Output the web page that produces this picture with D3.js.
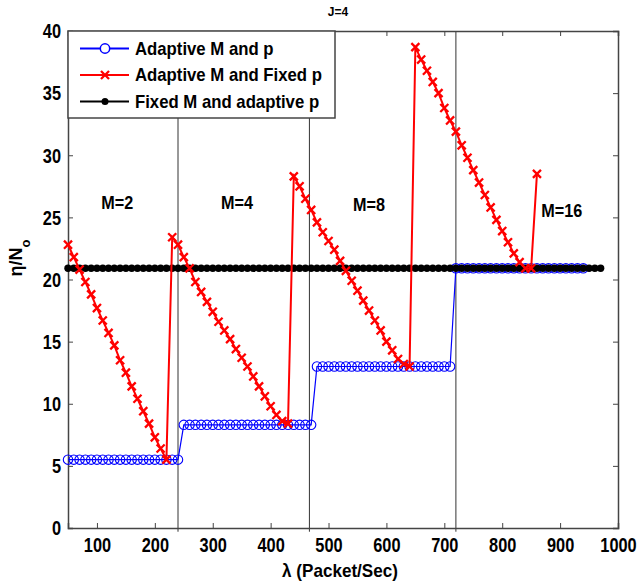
<!DOCTYPE html>
<html>
<head>
<meta charset="utf-8">
<script src="https://cdn.jsdelivr.net/npm/d3@7"></script>
<style>
  body { margin: 0; background: #fff; }
  text { font-family: "Liberation Sans", Arial, sans-serif; font-weight: bold; fill: #000; }
</style>
</head>
<body>
<svg id="chart" width="638" height="582"></svg>
<script>
// lambda sampling (Packet/Sec)
const lambdaBlue = d3.range(50, 941, 10);
const lambdaRed = d3.range(50, 861, 10);
const lambdaBlack = d3.range(50, 971, 10);

// Adaptive M and p
const blueVals = [
  5.5, 5.5, 5.5, 5.5, 5.5, 5.5, 5.5, 5.5, 5.5, 5.5, 5.5, 5.5, 5.5, 5.5, 5.5, 5.5, 5.5, 5.5, 5.5, 5.5,
  8.3, 8.3, 8.3, 8.3, 8.3, 8.3, 8.3, 8.3, 8.3, 8.3, 8.3, 8.3, 8.3, 8.3, 8.3, 8.3, 8.3, 8.3, 8.3, 8.3, 8.3, 8.3, 8.3,
  13.0, 13.0, 13.0, 13.0, 13.0, 13.0, 13.0, 13.0, 13.0, 13.0, 13.0, 13.0, 13.0, 13.0, 13.0, 13.0, 13.0, 13.0, 13.0, 13.0, 13.0, 13.0, 13.0, 13.0,
  20.9, 20.9, 20.9, 20.9, 20.9, 20.9, 20.9, 20.9, 20.9, 20.9, 20.9, 20.9, 20.9, 20.9, 20.9, 20.9, 20.9, 20.9, 20.9, 20.9, 20.9, 20.9, 20.9
];

// Adaptive M and Fixed p
const redVals = [
  22.8, 21.8, 20.8, 19.8, 18.8, 17.7, 16.7, 15.7, 14.7, 13.5, 12.5, 11.4, 10.4, 9.4, 8.4, 7.3, 6.4, 5.5,
  23.4, 22.8, 21.8, 20.9, 19.8, 19.0, 18.2, 17.4, 16.6, 15.9, 15.2, 14.4, 13.7, 13.0, 12.2, 11.4, 10.6, 9.8, 9.1, 8.6, 8.4,
  28.3, 27.5, 26.5, 25.6, 24.6, 23.8, 23.1, 22.4, 21.5, 20.7, 19.9, 19.1, 18.3, 17.5, 16.7, 15.9, 15.0, 14.3, 13.6, 13.2, 13.0,
  38.7, 37.7, 36.8, 35.9, 35.0, 33.8, 32.8, 31.9, 30.8, 29.8, 28.8, 27.8, 26.8, 25.8, 24.8, 23.9, 23.0, 22.1, 21.4, 20.9, 20.9,
  28.5
];

// Fixed M and adaptive p
const blackVals = lambdaBlack.map(() => 20.9);

const regionBounds = [240, 467, 720];
const regionLabels = [
  { text: "M=2", x: 135, y: 26.2 },
  { text: "M=4", x: 342, y: 26.2 },
  { text: "M=8", x: 570, y: 26.0 },
  { text: "M=16", x: 903, y: 25.5 }
];
const xTicks = [100, 200, 300, 400, 500, 600, 700, 800, 900, 1000];
const yTicks = [0, 5, 10, 15, 20, 25, 30, 35, 40];

const svg = d3.select("#chart");
const margin = { top: 31, right: 20, bottom: 54, left: 68 };
const width = 638 - margin.left - margin.right;
const height = 582 - margin.top - margin.bottom;

const x = d3.scaleLinear().domain([50, 1000]).range([0, width]);
const y = d3.scaleLinear().domain([0, 40]).range([height, 0]);

// squeeze text horizontally around its own x position (narrow Helvetica look)
function condense(sel, k) {
  sel.each(function () {
    const t = d3.select(this);
    const x0 = +t.attr("x") || 0;
    t.attr("x", x0 / k).attr("transform", `scale(${k},1)`);
  });
}

const g = svg.append("g").attr("transform", `translate(${margin.left},${margin.top})`);

// region separators
g.selectAll("line.sep").data(regionBounds).join("line")
  .attr("class", "sep")
  .attr("x1", d => x(d)).attr("x2", d => x(d))
  .attr("y1", y(-0.3)).attr("y2", 0)
  .attr("stroke", "#333").attr("stroke-width", 1);

// axes with inward ticks (box style)
const axB = g.append("g").attr("transform", `translate(0,${height})`)
  .call(d3.axisBottom(x).tickValues(xTicks).tickSize(-5).tickPadding(10).tickFormat(d3.format("d")));
const axT = g.append("g")
  .call(d3.axisTop(x).tickValues(xTicks).tickSize(-5).tickFormat(""));
const axL = g.append("g")
  .call(d3.axisLeft(y).tickValues(yTicks).tickSize(-5).tickPadding(7).tickFormat(d3.format("d")));
const axR = g.append("g").attr("transform", `translate(${width},0)`)
  .call(d3.axisRight(y).tickValues(yTicks).tickSize(-5).tickFormat(""));

[axB, axT, axL, axR].forEach(a => {
  a.select(".domain").attr("stroke", "#444").attr("stroke-width", 1.5);
  a.selectAll(".tick line").attr("stroke", "#444");
  a.selectAll(".tick text").style("font-size", "19.5px")
    .style("font-family", '"Liberation Sans", Arial, sans-serif').style("font-weight", "bold");
});
axL.selectAll(".tick text").attr("dy", "0.35em");
condense(axB.selectAll(".tick text"), 0.84);
condense(axL.selectAll(".tick text"), 0.84);

const line = d3.line().x(d => x(d[0])).y(d => y(d[1]));

const blueData = lambdaBlue.map((l, i) => [l, blueVals[i]]);
const redData = lambdaRed.map((l, i) => [l, redVals[i]]);
const blackData = lambdaBlack.map((l, i) => [l, blackVals[i]]);

// blue: adaptive M and p
g.append("path").datum(blueData).attr("d", line)
  .attr("fill", "none").attr("stroke", "#0000ff").attr("stroke-width", 1.2);
g.selectAll("circle.blue").data(blueData).join("circle")
  .attr("class", "blue")
  .attr("cx", d => x(d[0])).attr("cy", d => y(d[1])).attr("r", 4.7)
  .attr("fill", "none").attr("stroke", "#0000ff").attr("stroke-width", 1.1);

// black: fixed M and adaptive p
g.append("path").datum(blackData).attr("d", line)
  .attr("fill", "none").attr("stroke", "#000").attr("stroke-width", 2);
g.selectAll("circle.black").data(blackData).join("circle")
  .attr("class", "black")
  .attr("cx", d => x(d[0])).attr("cy", d => y(d[1])).attr("r", 3.7)
  .attr("fill", "#000");

// red: adaptive M and fixed p
const xSym = d3.symbol().type(d3.symbolX).size(44);
g.append("path").datum(redData).attr("d", line)
  .attr("fill", "none").attr("stroke", "#ff0000").attr("stroke-width", 2);
g.selectAll("path.red").data(redData).join("path")
  .attr("class", "red")
  .attr("transform", d => `translate(${x(d[0])},${y(d[1])})`)
  .attr("d", xSym)
  .attr("fill", "none").attr("stroke", "#ff0000").attr("stroke-width", 2.3);

// region labels
const regText = g.selectAll("text.reg").data(regionLabels).join("text")
  .attr("class", "reg")
  .attr("x", d => x(d.x)).attr("y", d => y(d.y))
  .attr("text-anchor", "middle").attr("dy", "0.35em")
  .style("font-size", "18px")
  .text(d => d.text);
condense(regText, 0.9);

// legend
const legendItems = [
  { label: "Adaptive M and p", color: "#0000ff", mark: "circle" },
  { label: "Adaptive M and Fixed p", color: "#ff0000", mark: "x" },
  { label: "Fixed M and adaptive p", color: "#000", mark: "dot" }
];
const leg = g.append("g");
leg.append("rect").attr("x", 0).attr("y", 0).attr("width", 267).attr("height", 87)
  .attr("fill", "#fff").attr("stroke", "#444").attr("stroke-width", 1.5);
const rows = leg.selectAll("g.row").data(legendItems).join("g")
  .attr("class", "row")
  .attr("transform", (d, i) => `translate(0,${17.5 + i * 26.5})`);
rows.append("line").attr("x1", 12).attr("x2", 61).attr("y1", 0).attr("y2", 0)
  .attr("stroke", d => d.color).attr("stroke-width", 2);
rows.each(function (d) {
  const r = d3.select(this);
  if (d.mark === "circle") {
    r.append("circle").attr("cx", 37).attr("cy", 0).attr("r", 4.7)
      .attr("fill", "#fff").attr("stroke", d.color).attr("stroke-width", 1.5);
  } else if (d.mark === "x") {
    r.append("path").attr("transform", "translate(37,0)").attr("d", xSym)
      .attr("fill", "none").attr("stroke", d.color).attr("stroke-width", 2.3);
  } else {
    r.append("circle").attr("cx", 37).attr("cy", 0).attr("r", 3.5).attr("fill", d.color);
  }
});
const legText = rows.append("text").attr("x", 67).attr("y", 0).attr("dy", "0.35em")
  .style("font-size", "18px").text(d => d.label);
condense(legText, 0.93);

// title and axis labels
svg.append("text").attr("x", 338).attr("y", 16).attr("text-anchor", "middle")
  .style("font-size", "12px").text("J=4");

const xl = svg.append("text").attr("x", 340).attr("y", 577).attr("text-anchor", "middle")
  .style("font-size", "18px").text("λ (Packet/Sec)");
condense(xl, 0.95);

const yl = svg.append("text").attr("transform", "translate(22,258) rotate(-90)")
  .attr("text-anchor", "middle").style("font-size", "18px");
yl.append("tspan").text("η/N");
yl.append("tspan").attr("baseline-shift", "sub").style("font-size", "13px").text("o");
</script>
</body>
</html>
